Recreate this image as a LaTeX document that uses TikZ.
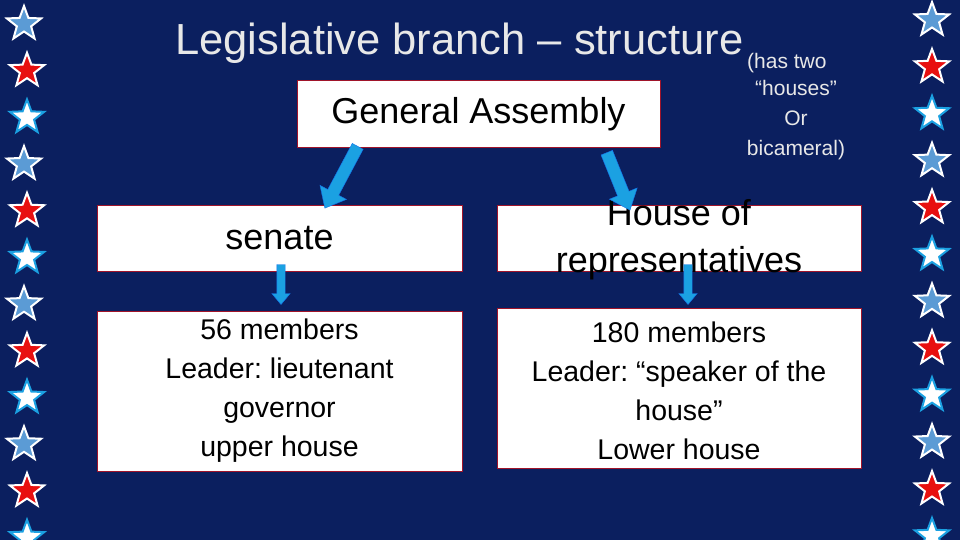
\documentclass[tikz,border=0pt]{standalone}
\usepackage{fontspec}
\setmainfont{Liberation Sans}
\frenchspacing
\usetikzlibrary{shapes.geometric,shapes.arrows}
\definecolor{navy}{HTML}{0B1F5F}
\definecolor{lblue}{HTML}{5B9BD5}
\definecolor{sky}{HTML}{1BA1E2}
\definecolor{sred}{HTML}{E81010}
\definecolor{bred}{HTML}{A0142A}
\definecolor{ttl}{HTML}{E8E8E8}
\tikzset{
 st/.style={star,star points=5,star point ratio=2.4,minimum size=36pt,inner sep=0pt,line width=2pt},
 sb/.style={st,fill=lblue,draw=white},
 sr/.style={st,fill=sred,draw=white},
 sw/.style={st,fill=white,draw=sky},
 box/.style={draw=bred,line width=1pt,fill=white,inner sep=0pt,align=center},
 fat/.style={single arrow,fill=sky,draw=sky!70!blue,minimum height=#1,single arrow head extend=6pt,minimum width=30pt,single arrow tip angle=80,inner sep=4pt}
}
\begin{document}
\begin{tikzpicture}[x=1pt,y=-1pt]
\fill[navy] (0,0) rectangle (960,540);
\useasboundingbox (0,0) rectangle (960,540);
\foreach \i in {0,...,11}{
 \pgfmathtruncatemacro\k{mod(\i,3)}
 \pgfmathsetmacro\yl{24+46.7*\i}
 \pgfmathsetmacro\yr{20+46.9*\i}
 \ifcase\k \node[sb] (l\i) at (24,\yl){}; \node[sb] (r\i) at (932,\yr){};
 \or \node[sr] (l\i) at (27,\yl){}; \node[sr] (r\i) at (932,\yr){};
 \or \node[sw] (l\i) at (27,\yl){}; \node[sw] (r\i) at (932,\yr){};
 \fi}
\node[ttl,anchor=base west,inner sep=0pt,font=\fontsize{43.5}{50}\selectfont] (title) at (175,55) {Legislative branch -- structure};
\node[ttl,anchor=base west,inner sep=0pt,font=\fontsize{21}{25}\selectfont] (has) at (747,69) {(has two};
\node[ttl,align=center,inner sep=0pt,font=\fontsize{21}{30}\selectfont] (houses) at (796,120) {“houses”\\Or\\bicameral)};
\node[box,minimum width=363pt,minimum height=67pt,font=\fontsize{36}{42}\selectfont] (ga) at (478.5,114.5) {General Assembly};
\node[box,minimum width=365pt,minimum height=66pt,font=\fontsize{36}{42}\selectfont] (sen) at (279.5,238) {senate};
\node[box,minimum width=364pt,minimum height=66pt] (hor) at (679,238) {};
\node[align=center,inner sep=0pt,font=\fontsize{36}{47}\selectfont] (hort) at (679,240) {House of\\representatives};
\node[box,minimum width=365pt,minimum height=160pt,font=\fontsize{28.5}{39}\selectfont] (sd) at (279.5,391) {56 members\\Leader: lieutenant\\governor\\upper house};
\node[box,minimum width=364pt,minimum height=160pt] (hd) at (679,388) {};
\node[align=center,inner sep=0pt,font=\fontsize{28.5}{39}\selectfont] (hdt) at (679,391) {180 members\\Leader: “speaker of the\\house”\\Lower house};
\node[fat=70pt,rotate=-118] (a1) at (343,174) {};
\node[fat=62pt,rotate=-68] (a2) at (617,178) {};
\node[fat=40pt,minimum width=18pt,single arrow head extend=5pt,rotate=-90] (a3) at (281,282) {};
\node[fat=40pt,minimum width=18pt,single arrow head extend=5pt,rotate=-90] (a4) at (688,282) {};
\end{tikzpicture}
\end{document}
